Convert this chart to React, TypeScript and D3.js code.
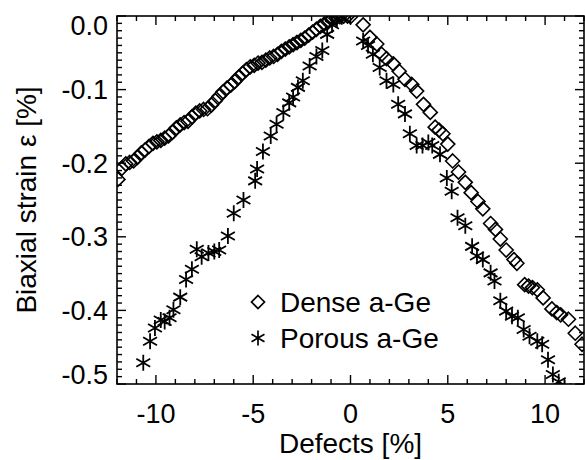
import React, { useRef, useEffect } from "react";
import * as d3 from "d3";

// Dense a-Ge (diamonds)
const denseX = [
  -11.95, -11.75, -11.55, -11.35, -11.15, -10.95, -10.75, -10.55, -10.35, -10.15,
  -9.95, -9.75, -9.55, -9.35, -9.15, -8.95, -8.75, -8.55, -8.35, -8.15,
  -7.95, -7.75, -7.55, -7.35, -7.15, -6.95, -6.75, -6.55, -6.35, -6.15,
  -5.95, -5.75, -5.55, -5.35, -5.15, -4.95, -4.75, -4.55, -4.35, -4.15,
  -3.95, -3.75, -3.55, -3.35, -3.15, -2.95, -2.75, -2.55, -2.35, -2.15,
  -1.95, -1.75, -1.55, -1.35, -1.15, -0.95, -0.75, -0.55, -0.35, -0.15,
  0.0, 0.65, 1.0, 1.35, 1.6, 1.85, 2.2, 2.5, 2.8, 3.15,
  3.4, 3.75, 4.1, 4.35, 4.55, 4.75, 5.0, 5.25, 5.55, 5.9,
  6.2, 6.55, 6.8, 7.2, 7.45, 7.7, 8.0, 8.4, 8.55, 8.95,
  9.15, 9.35, 9.6, 9.9, 10.35, 10.6, 10.8, 11.2, 11.55, 11.9,
];
const denseY = [
  -0.222, -0.207, -0.201, -0.199, -0.197, -0.192, -0.186, -0.182, -0.177, -0.173,
  -0.171, -0.169, -0.166, -0.163, -0.158, -0.152, -0.148, -0.145, -0.143, -0.137,
  -0.132, -0.129, -0.127, -0.126, -0.121, -0.115, -0.109, -0.103, -0.098, -0.094,
  -0.089, -0.083, -0.078, -0.073, -0.069, -0.067, -0.064, -0.063, -0.06, -0.057,
  -0.055, -0.052, -0.048, -0.045, -0.042, -0.039, -0.036, -0.033, -0.03, -0.026,
  -0.022, -0.018, -0.014, -0.011, -0.008, -0.005, -0.003, -0.001, 0.0, 0.0,
  -0.001, -0.012, -0.029, -0.038, -0.052, -0.058, -0.065, -0.075, -0.086, -0.093,
  -0.102, -0.12, -0.131, -0.151, -0.155, -0.16, -0.174, -0.197, -0.212, -0.226,
  -0.24, -0.252, -0.262, -0.282, -0.29, -0.303, -0.318, -0.331, -0.336, -0.365,
  -0.367, -0.369, -0.372, -0.383, -0.398, -0.403, -0.406, -0.412, -0.431, -0.446,
];

// Porous a-Ge (asterisks)
const porousX = [
  -11.1, -10.65, -10.3, -10.05, -9.75, -9.55, -9.3, -9.1, -8.75, -8.45,
  -8.15, -7.9, -7.65, -7.3, -7.0, -6.75, -6.3, -6.0, -5.5, -4.9,
  -4.8, -4.5, -4.1, -3.8, -3.45, -3.15, -2.95, -2.7, -2.45, -2.1,
  -1.75, -1.45, -1.2, -0.95, -0.7, -0.45, 0.65, 0.9, 1.15, 1.5,
  1.85, 2.2, 2.45, 2.8, 3.05, 3.4, 3.7, 4.0, 4.2, 4.6,
  4.95, 5.2, 5.5, 5.9, 6.25, 6.5, 6.8, 7.2, 7.4, 7.7,
  8.0, 8.3, 8.6, 8.9, 9.2, 9.6, 9.85, 10.15, 10.4, 10.7,
  11.0, 11.4,
];
const porousY = [
  -0.512, -0.471, -0.442, -0.424, -0.413, -0.415, -0.41, -0.399, -0.382, -0.358,
  -0.344, -0.317, -0.327, -0.322, -0.32, -0.318, -0.299, -0.268, -0.25, -0.224,
  -0.208, -0.184, -0.163, -0.147, -0.131, -0.118, -0.11, -0.097, -0.088, -0.068,
  -0.055, -0.047, -0.025, -0.012, -0.004, -0.001, -0.034, -0.04, -0.052, -0.07,
  -0.088, -0.093, -0.12, -0.133, -0.16, -0.176, -0.176, -0.172, -0.176, -0.188,
  -0.22, -0.238, -0.274, -0.285, -0.313, -0.326, -0.331, -0.349, -0.36, -0.387,
  -0.401, -0.408, -0.41, -0.426, -0.435, -0.442, -0.446, -0.467, -0.487, -0.497,
  -0.505, -0.512,
];

const xMajor = [-10, -5, 0, 5, 10];
const yMajor = [0, -0.1, -0.2, -0.3, -0.4, -0.5];
const yLabels = ["0.0", "-0.1", "-0.2", "-0.3", "-0.4", "-0.5"];
const legendNames = ["Dense a-Ge", "Porous a-Ge"];

const FONT = "'Liberation Sans', Arial, Helvetica, sans-serif";

const diamondPath = (r: number) => `M0,${-r}L${r},0L0,${r}L${-r},0Z`;
const starPath = (r: number) => {
  const c = r * Math.cos(Math.PI / 6);
  const s = r * Math.sin(Math.PI / 6);
  return `M0,${-r}L0,${r}M${-c},${-s}L${c},${s}M${-c},${s}L${c},${-s}`;
};

const App = () => {
  const svgRef = useRef<SVGSVGElement>(null);

  useEffect(() => {
    const width = 585;
    const height = 460;
    const margin = { top: 16, right: 1, bottom: 76, left: 117 };
    const x0 = margin.left;
    const x1 = width - margin.right;
    const y0 = margin.top;
    const y1 = height - margin.bottom;

    const svg = d3.select(svgRef.current);
    svg.selectAll("*").remove();
    svg.attr("width", width).attr("height", height);

    const xScale = d3.scaleLinear().domain([-12, 12]).range([x0, x1]);
    const yScale = d3.scaleLinear().domain([-0.5, 0]).range([y1, y0]);

    const xMinor = d3.range(-12, 13, 1);
    const yMinor = d3.range(0, 51).map((i) => -i / 100);

    const tickG = svg.append("g").attr("stroke", "#000").attr("stroke-width", 1.4);
    // x ticks bottom + top
    xMinor.forEach((v) => {
      const len = xMajor.includes(v) ? 9 : 5;
      const px = xScale(v);
      tickG.append("line").attr("x1", px).attr("x2", px).attr("y1", y1).attr("y2", y1 - len);
      tickG.append("line").attr("x1", px).attr("x2", px).attr("y1", y0).attr("y2", y0 + len);
    });
    // y ticks left + right
    yMinor.forEach((v, i) => {
      const len = i % 10 === 0 ? 9 : 5;
      const py = yScale(v);
      tickG.append("line").attr("x1", x0).attr("x2", x0 + len).attr("y1", py).attr("y2", py);
      tickG.append("line").attr("x1", x1).attr("x2", x1 - len).attr("y1", py).attr("y2", py);
    });

    // frame
    svg
      .append("rect")
      .attr("x", x0)
      .attr("y", y0)
      .attr("width", x1 - x0)
      .attr("height", y1 - y0)
      .attr("fill", "none")
      .attr("stroke", "#000")
      .attr("stroke-width", 1.6);

    // tick labels
    svg
      .append("g")
      .selectAll("text")
      .data(xMajor)
      .enter()
      .append("text")
      .attr("x", (d) => xScale(d))
      .attr("y", 423)
      .attr("text-anchor", "middle")
      .style("font-family", FONT)
      .style("font-size", "27px")
      .text((d) => d);

    svg
      .append("g")
      .selectAll("text")
      .data(yMajor)
      .enter()
      .append("text")
      .attr("x", x0 - 9)
      .attr("y", (d, i) => {
        const py = yScale(d);
        if (i === 0) return py + 19;
        if (i === yMajor.length - 1) return py;
        return py + 9.5;
      })
      .attr("text-anchor", "end")
      .style("font-family", FONT)
      .style("font-size", "27px")
      .text((_, i) => yLabels[i]);

    // axis titles
    svg
      .append("text")
      .attr("x", (x0 + x1) / 2)
      .attr("y", 453)
      .attr("text-anchor", "middle")
      .style("font-family", FONT)
      .style("font-size", "28px")
      .text("Defects [%]");

    svg
      .append("text")
      .attr("transform", `translate(36,${(y0 + y1) / 2}) rotate(-90)`)
      .attr("text-anchor", "middle")
      .style("font-family", FONT)
      .style("font-size", "28px")
      .text("Biaxial strain ε [%]");

    // data
    svg
      .append("clipPath")
      .attr("id", "plot-clip")
      .append("rect")
      .attr("x", x0)
      .attr("y", y0)
      .attr("width", x1 - x0)
      .attr("height", y1 - y0);

    const plot = svg.append("g").attr("clip-path", "url(#plot-clip)");

    plot
      .selectAll(".dense")
      .data(denseX.map((v, i) => [v, denseY[i]]))
      .enter()
      .append("path")
      .attr("class", "dense")
      .attr("transform", (d) => `translate(${xScale(d[0])},${yScale(d[1])})`)
      .attr("d", diamondPath(7))
      .attr("fill", "none")
      .attr("stroke", "#000")
      .attr("stroke-width", 1.6);

    plot
      .selectAll(".porous")
      .data(porousX.map((v, i) => [v, porousY[i]]))
      .enter()
      .append("path")
      .attr("class", "porous")
      .attr("transform", (d) => `translate(${xScale(d[0])},${yScale(d[1])})`)
      .attr("d", starPath(8))
      .attr("fill", "none")
      .attr("stroke", "#000")
      .attr("stroke-width", 1.8);

    // legend
    const legend = svg
      .selectAll(".legend")
      .data(legendNames)
      .enter()
      .append("g")
      .attr("class", "legend")
      .attr("transform", (_, i) => `translate(258,${302 + i * 36})`);

    legend
      .append("path")
      .attr("d", (_, i) => (i === 0 ? diamondPath(6.5) : starPath(7.5)))
      .attr("fill", "none")
      .attr("stroke", "#000")
      .attr("stroke-width", 1.7);

    legend
      .append("text")
      .attr("x", 22)
      .attr("y", 10)
      .style("font-family", FONT)
      .style("font-size", "28px")
      .text((d) => d);
  }, []);

  return (
    <svg
      ref={svgRef}
      style={{ position: "absolute", left: 0, top: 0, background: "#fff" }}
    ></svg>
  );
};

export default App;
